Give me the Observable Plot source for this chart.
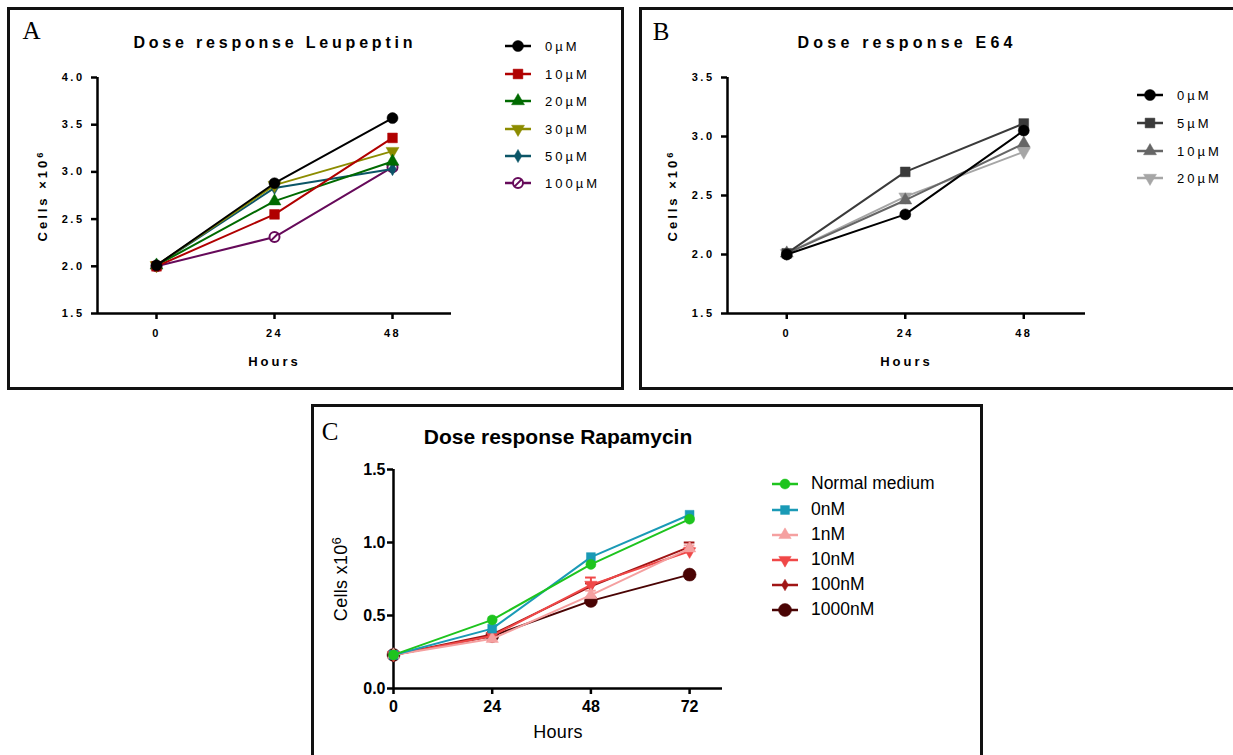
<!DOCTYPE html>
<html><head><meta charset="utf-8">
<script src="https://cdn.jsdelivr.net/npm/d3@7"></script>
<script src="https://cdn.jsdelivr.net/npm/@observablehq/plot@0.6"></script>
<style>
html,body{margin:0;padding:0;background:#fff;}
body{position:relative;width:1233px;height:755px;overflow:hidden;}
.box{position:absolute;border:3px solid #111;box-sizing:border-box;}
.t{position:absolute;white-space:nowrap;line-height:1;color:#000;}
.pw{position:absolute;}
.pAB g[aria-label="x-axis label"], .pAB g[aria-label="y-axis label"]{font-size:13px;letter-spacing:3px;font-weight:bold;}
.pC g[aria-label="x-axis label"], .pC g[aria-label="y-axis label"]{font-size:18px;letter-spacing:0.3px;font-weight:normal;}
</style>
</head><body>
<script>
// ---------- data ----------
const hoursAB = [0, 24, 48];
const leupSeries = ["0µM", "10µM", "20µM", "30µM", "50µM", "100µM"];
const leupValues = [
  [2.01, 2.88, 3.57],
  [2.00, 2.55, 3.36],
  [2.01, 2.69, 3.11],
  [2.01, 2.86, 3.22],
  [2.01, 2.83, 3.03],
  [2.00, 2.31, 3.05]
];
const leupColors = ["#000000", "#b00000", "#006a00", "#8c8c00", "#0b5567", "#660a5a"];

const e64Series = ["0µM", "5µM", "10µM", "20µM"];
const e64Values = [
  [2.00, 2.34, 3.05],
  [2.01, 2.70, 3.11],
  [2.01, 2.46, 2.94],
  [2.01, 2.49, 2.87]
];
const e64Colors = ["#000000", "#3a3a3a", "#666666", "#a6a6a6"];

const rapaHours = [0, 24, 48, 72];
const rapaSeries = ["Normal medium", "0nM", "1nM", "10nM", "100nM", "1000nM"];
const rapaValues = [
  [0.23, 0.47, 0.85, 1.16],
  [0.23, 0.41, 0.90, 1.19],
  [0.23, 0.34, 0.64, 0.96],
  [0.23, 0.36, 0.71, 0.94],
  [0.23, 0.37, 0.70, 0.97],
  [0.23, 0.36, 0.60, 0.78]
];
const rapaErrors = [
  [0, 0, 0, 0],
  [0, 0, 0, 0],
  [0, 0, 0.03, 0.02],
  [0, 0, 0.05, 0.02],
  [0, 0, 0.02, 0.03],
  [0, 0, 0, 0]
];
const rapaColors = ["#1ec41e", "#1a9ab6", "#f5a0a0", "#f04848", "#a01515", "#4a0404"];

const leupYTicks = [1.5, 2.0, 2.5, 3.0, 3.5, 4.0];
const e64YTicks = [1.5, 2.0, 2.5, 3.0, 3.5];
const rapaYTicks = [0.0, 0.5, 1.0, 1.5];
const rapaXTicks = [0, 24, 48, 72];

// ---------- symbols ----------
const triDown = {draw(ctx, size) {
  const s3 = Math.sqrt(3), y = -Math.sqrt(size / (s3 * 3));
  ctx.moveTo(0, -y * 2); ctx.lineTo(-s3 * y, y); ctx.lineTo(s3 * y, y); ctx.closePath();
}};
const slashCircle = {draw(ctx, size) {
  const r = Math.sqrt(size / Math.PI);
  ctx.moveTo(r, 0); ctx.arc(0, 0, r, 0, 2 * Math.PI);
  const k = r * 0.62; ctx.moveTo(-k, k); ctx.lineTo(k, -k);
}};
const leupSym = [d3.symbolCircle, d3.symbolSquare, d3.symbolTriangle, triDown, d3.symbolDiamond, slashCircle];
const leupR = [5.5, 5.5, 4.8, 4.8, 4, 5];
const leupHollow = [false, false, false, false, false, true];
const e64Sym = [d3.symbolCircle, d3.symbolSquare, d3.symbolTriangle, triDown];
const e64R = [5.5, 5.5, 4.8, 4.8];
const rapaSym = [d3.symbolCircle, d3.symbolSquare, d3.symbolTriangle, triDown, d3.symbolDiamond, d3.symbolCircle];
const rapaR = [5, 5, 4.6, 4.6, 3.5, 6.5];

// ---------- helpers ----------
function addBox(l, t, w, h) {
  const d = document.createElement("div");
  d.className = "box";
  Object.assign(d.style, {left: l + "px", top: t + "px", width: w + "px", height: h + "px"});
  document.body.appendChild(d);
}
function addText(txt, x, y, o) {
  const s = document.createElement("span");
  s.className = "t";
  s.textContent = txt;
  Object.assign(s.style, {
    left: x + "px", top: y + "px",
    fontFamily: o.family || '"Liberation Sans", Arial, sans-serif',
    fontSize: o.size + "px", fontWeight: o.weight || "normal",
    letterSpacing: (o.ls || 0) + "px",
    transform: o.center ? "translate(-50%,-50%)" : "translate(0,-50%)"
  });
  if (o.center && o.ls) s.style.paddingLeft = o.ls + "px";
  document.body.appendChild(s);
}
function addLegend(series, colors, syms, rs, hollow, x0, ys, tx, fo) {
  series.forEach((name, i) => {
    const svg = d3.select(document.body).append("svg")
      .attr("width", 30).attr("height", 18)
      .style("position", "absolute").style("left", x0 + "px").style("top", (ys[i] - 9) + "px")
      .style("overflow", "visible");
    svg.append("line").attr("x1", 0).attr("x2", 26).attr("y1", 9).attr("y2", 9)
      .attr("stroke", colors[i]).attr("stroke-width", 2.5);
    const p = d3.symbol().type(syms[i]).size(Math.PI * rs[i] * rs[i])();
    svg.append("path").attr("d", p).attr("transform", "translate(13,9)")
      .attr("fill", hollow && hollow[i] ? "#fff" : colors[i])
      .attr("stroke", colors[i]).attr("stroke-width", hollow && hollow[i] ? 2 : 0.5);
    addText(name, tx, ys[i], fo);
  });
}
function superscriptLabel(svg, base, sup) {
  d3.select(svg).selectAll('g[aria-label="y-axis label"] text').each(function () {
    const t = d3.select(this);
    t.text(base);
    t.append("tspan").attr("dy", "-0.45em").attr("font-size", "0.72em").text(sup);
  });
}
function makePlot(cfg) {
  const rows = [];
  cfg.series.forEach((s, i) => cfg.hours.forEach((h, j) =>
    rows.push({series: s, idx: i, hour: h, value: cfg.values[i][j], err: cfg.errors ? cfg.errors[i][j] : 0})));
  const marks = [];
  for (let i = cfg.series.length - 1; i >= 0; i--) {
    const d = rows.filter(r => r.idx === i);
    const c = cfg.colors[i];
    if (cfg.errors) {
      const e = d.filter(r => r.err > 0);
      marks.push(Plot.ruleX(e, {x: "hour", y1: "value", y2: r => r.value + r.err, stroke: c, strokeWidth: 2}));
      marks.push(Plot.ruleY(e, {y: r => r.value + r.err, x1: r => r.hour - 1.3, x2: r => r.hour + 1.3, stroke: c, strokeWidth: 2}));
    }
    marks.push(Plot.line(d, {x: "hour", y: "value", stroke: c, strokeWidth: cfg.lw}));
    const hol = cfg.hollow && cfg.hollow[i];
    marks.push(Plot.dot(d, {x: "hour", y: "value", symbol: cfg.syms[i], r: cfg.rs[i],
      fill: hol ? "#fff" : c, stroke: c, strokeWidth: hol ? 2 : 0.5}));
  }
  const p = Plot.plot({
    width: cfg.width, height: cfg.height,
    marginLeft: cfg.m[0], marginTop: cfg.m[1], marginRight: cfg.m[2], marginBottom: cfg.m[3],
    className: cfg.cls,
    style: Object.assign({background: "transparent", overflow: "visible", color: "#000"}, cfg.font),
    x: {type: "linear", domain: cfg.xDomain},
    y: {type: "linear", domain: cfg.yDomain},
    marks: [
      Plot.axisY({ticks: cfg.yTicks, tickFormat: d3.format(".1f"), tickSize: 6, tickPadding: cfg.yPad,
        strokeWidth: cfg.aw, label: cfg.yLabel, labelAnchor: "center", labelOffset: cfg.yOff, labelArrow: "none"}),
      Plot.axisX({ticks: cfg.xTicks, tickFormat: d3.format("d"), tickSize: 6, tickPadding: cfg.xPad,
        strokeWidth: cfg.aw, label: cfg.xLabel, labelAnchor: "center", labelOffset: cfg.xOff, labelArrow: "none"}),
      Plot.ruleX([cfg.xDomain[0]], {stroke: "#000", strokeWidth: cfg.aw}),
      Plot.ruleY([cfg.yDomain[0]], {stroke: "#000", strokeWidth: cfg.aw}),
      ...marks
    ]
  });
  superscriptLabel(p, cfg.yLabelBase, "6");
  const w = document.createElement("div");
  w.className = "pw";
  w.style.left = cfg.left + "px"; w.style.top = cfg.top + "px";
  w.appendChild(p);
  document.body.appendChild(w);
}

// ---------- panel frames ----------
addBox(7, 7, 617, 383);
addBox(639, 7, 620, 383);
addBox(311, 404, 672, 400);

const fontAB = {fontFamily: '"Liberation Sans", Arial, sans-serif', fontSize: "11px", fontWeight: "bold", letterSpacing: "2.5px"};
const fontC = {fontFamily: '"Liberation Sans", Arial, sans-serif', fontSize: "16px", fontWeight: "bold", letterSpacing: "0px"};

// Panel A
makePlot({left: 10, top: 10, width: 500, height: 370, m: [87, 67, 59, 67], cls: "pAB",
  series: leupSeries, values: leupValues, colors: leupColors, syms: leupSym, rs: leupR, hollow: leupHollow,
  hours: hoursAB, xDomain: [-12, 60], yDomain: [1.5, 4.0], xTicks: hoursAB, yTicks: leupYTicks,
  xLabel: "Hours", yLabel: "Cells ×10⁶", yLabelBase: "Cells ×10", xOff: 52, yOff: 60, xPad: 10, yPad: 7, aw: 2.5, lw: 2, font: fontAB});
// Panel B
makePlot({left: 641, top: 10, width: 500, height: 370, m: [86, 67, 56, 67], cls: "pAB",
  series: e64Series, values: e64Values, colors: e64Colors, syms: e64Sym, rs: e64R,
  hours: hoursAB, xDomain: [-12, 60.5], yDomain: [1.5, 3.5], xTicks: hoursAB, yTicks: e64YTicks,
  xLabel: "Hours", yLabel: "Cells ×10⁶", yLabelBase: "Cells ×10", xOff: 52, yOff: 60, xPad: 10, yPad: 7, aw: 2.5, lw: 2, font: fontAB});
// Panel C
makePlot({left: 314, top: 407, width: 450, height: 340, m: [79, 62, 42, 59], cls: "pC",
  series: rapaSeries, values: rapaValues, errors: rapaErrors, colors: rapaColors, syms: rapaSym, rs: rapaR,
  hours: rapaHours, xDomain: [0, 80], yDomain: [0, 1.5], xTicks: rapaXTicks, yTicks: rapaYTicks,
  xLabel: "Hours", yLabel: "Cells x10⁶", yLabelBase: "Cells x10", xOff: 49, yOff: 59, xPad: 6, yPad: 2, aw: 2.5, lw: 2, font: fontC});

// ---------- titles and letters ----------
const serif = '"Liberation Serif", "DejaVu Serif", serif';
addText("A", 31.5, 30, {size: 25, family: serif, center: true});
addText("B", 661, 31, {size: 25, family: serif, center: true});
addText("C", 330, 431, {size: 25, family: serif, center: true});
addText("Dose response Leupeptin", 273, 43, {size: 16, weight: "bold", ls: 3.8, center: true});
addText("Dose response E64", 905, 43, {size: 16, weight: "bold", ls: 4.2, center: true});
addText("Dose response Rapamycin", 558, 436, {size: 21, weight: "bold", center: true});

// ---------- legends ----------
addLegend(leupSeries, leupColors, leupSym, leupR, leupHollow, 505, [46, 73.5, 101, 128.5, 156, 183], 545,
  {size: 13, ls: 3});
addLegend(e64Series, e64Colors, e64Sym, e64R, null, 1137, [94.5, 122.5, 150.5, 178], 1177,
  {size: 13, ls: 3});
addLegend(rapaSeries, rapaColors, rapaSym, rapaR, null, 772, [484, 510, 535, 560, 585, 610], 811,
  {size: 17.5});
</script>
</body></html>
